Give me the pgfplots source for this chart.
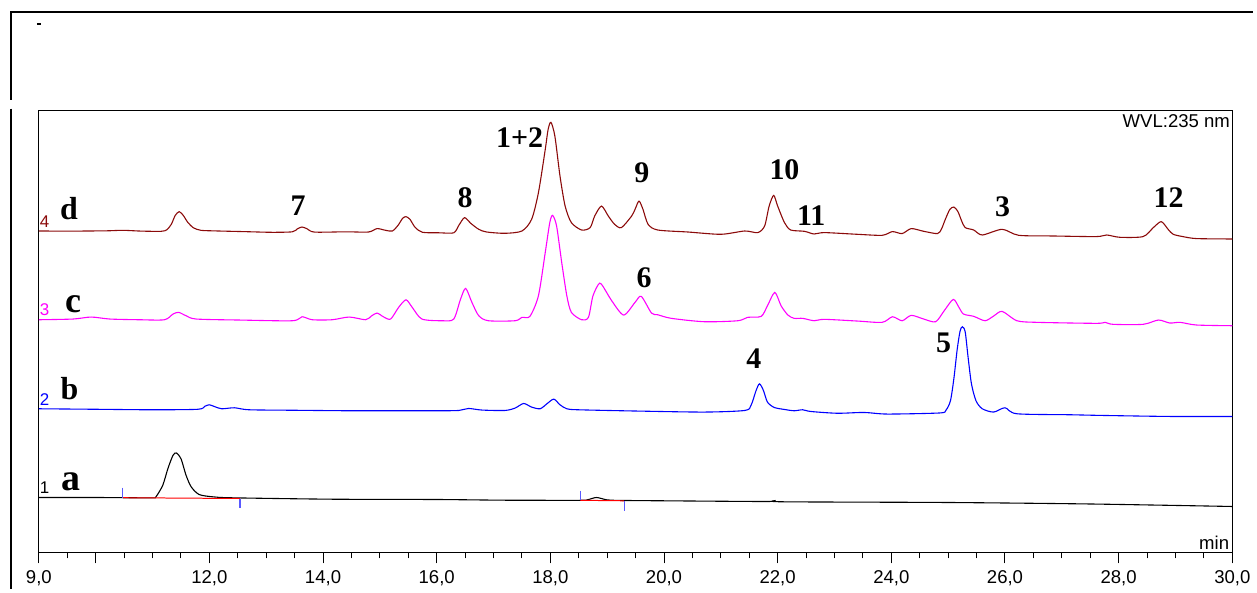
\documentclass[border=0pt]{standalone}
\usepackage{pgfplots}
\pgfplotsset{compat=1.18}
\usepackage{fontspec}
\setmainfont{Liberation Sans}
\newfontfamily\tnr{Liberation Serif}
\definecolor{dred}{RGB}{139,10,10}
\definecolor{mag}{RGB}{255,0,255}
\definecolor{blu}{RGB}{0,0,255}
\begin{document}
\begin{tikzpicture}
\begin{scope}[shift={(-19.5pt,277pt)},x=0.5pt,y=-0.5pt]
\useasboundingbox (0,0) rectangle (1257,591);
\end{scope}
\begin{axis}[at={(0,0)}, anchor=south west, scale only axis,
  width=598.5pt, height=221.5pt,
  xmin=9, xmax=30, ymin=-554, ymax=-111,
  ytick=\empty,
  xtick={9,10,12,14,16,18,20,22,24,26,28,30},
  xticklabels={{9,0},,{12,0},{14,0},{16,0},{18,0},{20,0},{22,0},{24,0},{26,0},{28,0},{30,0}},
  minor xtick={9.5,10.5,11,11.5,12.5,13,13.5,14.5,15,15.5,16.5,17,17.5,18.5,19,19.5,20.5,21,21.5,22.5,23,23.5,24.5,25,25.5,26.5,27,27.5,28.5,29,29.5},
  xtick pos=left,
  tick align=outside,
  major tick length=5.5pt, minor tick length=3pt,
  tick style={black, line width=0.5pt},
  axis line style={line width=0.5pt},
  xticklabel style={font=\fontsize{9.3}{9.3}\selectfont},
  every axis plot/.append style={line width=0.55pt},
]
% trace a (1)
\addplot[black, smooth, tension=0.45] coordinates {(9.0,-499) (10.0,-499) (10.5,-499.2) (11.0,-499.3) (11.06,-498.3) (11.18,-486.7) (11.27,-470) (11.36,-456.7) (11.42,-454.3) (11.5,-460) (11.59,-476.7) (11.68,-488.3) (11.82,-496) (12.06,-498.3) (12.41,-499.3) (14.16,-500.7) (16.0,-501) (17.2,-501.7) (18.5,-501.8) (18.64,-501.5) (18.81,-499) (18.99,-501.3) (19.2,-501.9) (20.0,-502.3) (21.8,-503) (21.96,-502) (22.1,-503.3) (25.0,-504) (27.5,-505.5) (30.0,-508)};
\addplot[red, line width=0.5pt] coordinates {(10.47,-499.2) (12.54,-500)};
\addplot[red, line width=0.5pt] coordinates {(18.53,-501.8) (19.3,-502.3)};
\addplot[blue!65, line width=0.6pt] coordinates {(10.47,-489) (10.47,-499)};
\addplot[blue!65, line width=0.6pt] coordinates {(12.54,-500) (12.54,-510)};
\addplot[blue!65, line width=0.6pt] coordinates {(18.53,-492) (18.53,-502)};
\addplot[blue!65, line width=0.6pt] coordinates {(19.3,-502.5) (19.3,-512.5)};
% trace b (2)
\addplot[blu, smooth, tension=0.45] coordinates {(9.0,-410) (10.0,-410.5) (11.0,-411) (11.8,-410.5) (11.92,-407.5) (12.0,-406) (12.1,-408) (12.22,-410) (12.44,-409) (12.7,-411) (13.5,-411.5) (14.5,-412) (15.5,-412) (16.04,-412) (16.39,-411.7) (16.56,-409.7) (16.8,-411.3) (17.2,-411.7) (17.38,-409.3) (17.53,-404.7) (17.67,-408.3) (17.82,-410) (17.94,-405) (18.06,-400.3) (18.17,-406) (18.29,-410) (18.49,-411) (19.54,-412.3) (20.71,-413.3) (21.42,-411.7) (21.53,-406.7) (21.62,-391.7) (21.68,-385) (21.75,-391.7) (21.82,-403.3) (21.94,-408.7) (22.12,-410.7) (22.29,-412) (22.44,-411) (22.58,-412.7) (23.05,-414.5) (23.52,-413.7) (23.93,-415.3) (24.85,-414.2) (24.96,-411.5) (25.04,-402) (25.1,-380) (25.16,-350) (25.21,-332) (25.25,-327.7) (25.3,-333) (25.35,-358) (25.41,-385) (25.49,-402) (25.6,-410) (25.8,-413.3) (26.0,-409) (26.21,-415) (27.15,-416) (27.73,-416.7) (28.9,-417.7) (30.0,-417.7)};
% trace c (3)
\addplot[mag, smooth, tension=0.45] coordinates {(9.0,-320.7) (9.6,-320) (9.92,-318) (10.25,-320) (10.77,-320.7) (11.21,-320.7) (11.36,-315) (11.46,-313.3) (11.59,-316.7) (11.77,-320) (12.53,-321) (13.46,-321.7) (13.63,-317.7) (13.81,-320.7) (14.16,-320.7) (14.46,-318) (14.75,-320.7) (14.85,-317) (14.95,-314) (15.07,-318) (15.19,-320) (15.33,-308.3) (15.46,-300.7) (15.57,-308.3) (15.74,-320) (16.1,-321.7) (16.3,-320) (16.42,-300) (16.51,-289.3) (16.62,-303.3) (16.74,-316.7) (16.91,-321.7) (17.38,-321.7) (17.5,-318.3) (17.64,-317.3) (17.79,-296.7) (17.91,-253.3) (17.99,-223.3) (18.04,-216) (18.11,-226.7) (18.2,-263.3) (18.29,-296.7) (18.37,-313.3) (18.55,-320.7) (18.67,-318.3) (18.75,-296.7) (18.87,-284) (18.99,-293.3) (19.08,-301.7) (19.29,-316) (19.49,-303.3) (19.6,-297.3) (19.78,-314) (19.89,-315.7) (20.13,-319.3) (20.71,-322.7) (21.3,-321.7) (21.47,-318.3) (21.71,-317.3) (21.82,-306.7) (21.95,-293.3) (22.06,-306.7) (22.18,-316) (22.29,-319.3) (22.44,-319.3) (22.64,-321.7) (22.82,-320.3) (23.4,-322) (23.84,-323.3) (24.02,-317.7) (24.19,-321.7) (24.35,-316.3) (24.57,-320) (24.78,-322.7) (24.93,-311.7) (25.09,-300.3) (25.19,-308.3) (25.27,-315) (25.45,-317.3) (25.65,-321.7) (25.8,-317) (25.95,-312.3) (26.21,-321.7) (26.56,-323.3) (27.61,-324.3) (27.76,-323.3) (27.9,-325.3) (28.43,-325.3) (28.7,-321) (28.9,-324) (29.08,-323.3) (29.37,-326) (30.0,-326.7)};
% trace d (4)
\addplot[dred, smooth, tension=0.45] coordinates {(9.0,-231.7) (9.6,-231.8) (10.2,-231.5) (10.48,-231.0) (10.8,-231.8) (11.15,-232) (11.25,-230.5) (11.33,-225) (11.4,-216) (11.47,-212.3) (11.54,-216) (11.62,-223) (11.72,-228.5) (11.85,-231) (12.1,-231.6) (12.6,-232.3) (13.1,-233) (13.46,-232.5) (13.55,-229.5) (13.63,-227.7) (13.72,-229.5) (13.85,-232.8) (14.4,-232.5) (14.8,-232.7) (14.95,-229.3) (15.1,-231) (15.22,-231.7) (15.32,-226) (15.4,-219) (15.46,-217.3) (15.53,-220) (15.62,-228) (15.75,-233) (16.05,-233.5) (16.3,-233.5) (16.39,-226) (16.49,-218.3) (16.6,-224) (16.74,-230) (16.88,-232.7) (17.2,-234) (17.5,-231.7) (17.67,-220) (17.79,-193.3) (17.91,-150) (17.96,-130) (18.01,-122.7) (18.08,-136.7) (18.17,-176.7) (18.26,-206.7) (18.37,-223.3) (18.55,-230.7) (18.7,-228.3) (18.78,-216.7) (18.9,-206.7) (19.02,-216.7) (19.13,-225) (19.25,-228.3) (19.43,-216.7) (19.49,-210) (19.56,-201.7) (19.63,-210) (19.72,-225) (19.89,-230.7) (20.42,-232.7) (21.0,-235) (21.42,-231.7) (21.65,-233.3) (21.77,-226.7) (21.85,-206.7) (21.93,-196) (22.0,-206.7) (22.12,-223.3) (22.23,-230.7) (22.47,-232) (22.64,-234.7) (22.82,-233.3) (23.4,-235) (23.84,-236) (24.02,-232.3) (24.19,-234.3) (24.35,-229.3) (24.57,-232) (24.81,-234.3) (24.88,-230) (24.95,-220) (25.03,-210) (25.1,-207.7) (25.17,-212) (25.24,-222) (25.3,-228.3) (25.45,-230.7) (25.6,-235.7) (25.95,-230) (26.24,-236) (26.85,-236.7) (27.61,-237.3) (27.79,-235.7) (28.02,-238) (28.43,-237.3) (28.61,-228.3) (28.75,-222.3) (28.87,-230) (28.96,-235) (29.13,-237.3) (29.37,-239.3) (30.0,-239.7)};
% trace numbers
\node[anchor=base, text=dred, font=\fontsize{8.5}{8.5}\selectfont] at (axis cs:9.1,-228) {4};
\node[anchor=base, text=mag, font=\fontsize{8.5}{8.5}\selectfont] at (axis cs:9.1,-316.7) {3};
\node[anchor=base, text=blu, font=\fontsize{8.5}{8.5}\selectfont] at (axis cs:9.1,-407) {2};
\node[anchor=base, text=black, font=\fontsize{8.5}{8.5}\selectfont] at (axis cs:9.1,-495) {1};
% letters
\node[anchor=base, font=\tnr\bfseries\fontsize{16}{16}\selectfont] at (axis cs:9.53,-220) {d};
\node[anchor=base, font=\tnr\bfseries\fontsize{18}{18}\selectfont] at (axis cs:9.6,-313.3) {c};
\node[anchor=base, font=\tnr\bfseries\fontsize{16}{16}\selectfont] at (axis cs:9.54,-401) {b};
\node[anchor=base, font=\tnr\bfseries\fontsize{19}{19}\selectfont] at (axis cs:9.56,-491.7) {a};
% peak labels
\begin{scope}[every node/.style={anchor=base, font=\tnr\bfseries\fontsize{15}{15}\selectfont}]
\node at (axis cs:13.56,-216) {7};
\node at (axis cs:16.5,-208.3) {8};
\node at (axis cs:17.46,-148.3) {1+2};
\node at (axis cs:19.61,-183.3) {9};
\node at (axis cs:22.12,-180) {10};
\node at (axis cs:22.59,-226) {11};
\node at (axis cs:19.65,-288) {6};
\node at (axis cs:21.58,-369.3) {4};
\node at (axis cs:24.92,-353.3) {5};
\node at (axis cs:25.96,-216.7) {3};
\node at (axis cs:28.88,-208.3) {12};
\end{scope}
\node[anchor=base east, font=\fontsize{9.3}{9.3}\selectfont, inner sep=0pt] at (axis cs:29.965,-128) {WVL:235 nm};
\node[anchor=base east, font=\fontsize{9.3}{9.3}\selectfont, inner sep=0pt] at (axis cs:29.95,-551) {min};
\end{axis}
\begin{scope}[shift={(-19.5pt,277pt)},x=0.5pt,y=-0.5pt]
\draw[line width=1pt] (11,100) -- (11,12) -- (1257,12);
\draw[line width=1pt] (11,109) -- (11,591);
\draw[line width=0.6pt] (37,24) -- (41,24);
\end{scope}
\end{tikzpicture}
\end{document}
